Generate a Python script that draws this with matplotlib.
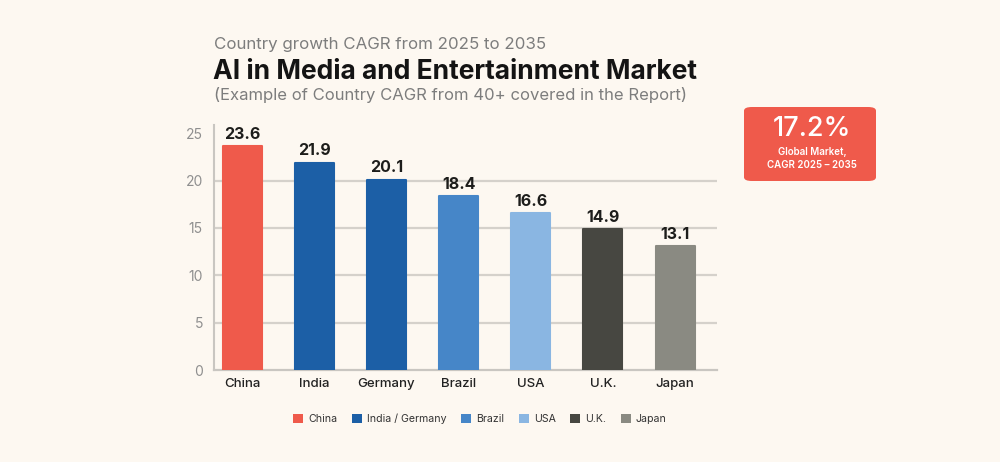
import matplotlib
matplotlib.use("Agg")
import matplotlib.pyplot as plt
from matplotlib.patches import FancyBboxPatch, Patch

countries = ["China", "India", "Germany", "Brazil", "USA", "U.K.", "Japan"]
cagr = [23.6, 21.9, 20.1, 18.4, 16.6, 14.9, 13.1]
bar_colors = ["#EF5A4B", "#1C5FA6", "#1C5FA6", "#4686C8", "#8AB6E2", "#474741", "#8A8A82"]
yticks = [0, 5, 10, 15, 20, 25]
legend_labels = ["China", "India / Germany", "Brazil", "USA", "U.K.", "Japan"]
legend_colors = ["#EF5A4B", "#1C5FA6", "#4686C8", "#8AB6E2", "#474741", "#8A8A82"]
global_cagr = "17.2%"

BG = "#FDF8F1"
FONT = "Inter"
plt.rcParams["font.family"] = [FONT, "DejaVu Sans"]

fig = plt.figure(figsize=(10, 4.62), dpi=100, facecolor=BG)
ax = fig.add_axes([0.214, 0.1991, 0.503, 0.531], facecolor="none")

x = range(len(countries))
bars = ax.bar(x, cagr, width=0.54, color=bar_colors, edgecolor=bar_colors,
              linewidth=1.5, joinstyle="round", zorder=3)
for xi, v in zip(x, cagr):
    ax.annotate(f"{v:.1f}", (xi, v), xytext=(0, 3), textcoords="offset points",
                ha="center", va="bottom", fontsize=11.5, fontweight="bold",
                color="#1d1d1b", zorder=4)

ax.set_xlim(-0.39, 6.58)
ax.set_ylim(0, 25.9)
ax.set_yticks(yticks)
ax.set_yticklabels([str(t) for t in yticks], fontsize=10, color="#8f8f8f")
ax.set_xticks(list(x))
ax.set_xticklabels(countries, fontsize=9.5, color="#222222", fontweight="medium")
ax.tick_params(axis="y", length=0, pad=8)
ax.tick_params(axis="x", length=0, pad=6)
for t in yticks[1:-1]:
    ax.axhline(t, color="#D5D1CB", linewidth=1.6, zorder=1)
for s in ["top", "right"]:
    ax.spines[s].set_visible(False)
ax.spines["left"].set_color("#C9C6C1")
ax.spines["left"].set_linewidth(1.5)
ax.spines["bottom"].set_color("#C9C6C1")
ax.spines["bottom"].set_linewidth(1.6)

# Titles
fig.text(0.214, 1 - 45 / 462, "Country growth CAGR from 2025 to 2035", fontsize=12.2,
         color="#7d7d7d", va="center", ha="left")
fig.text(0.213, 1 - 72 / 462, "AI in Media and Entertainment Market", fontsize=19,
         fontweight="bold", color="#141414", va="center", ha="left")
fig.text(0.214, 1 - 95 / 462, "(Example of Country CAGR from 40+ covered in the Report)",
         fontsize=12, color="#7d7d7d", va="center", ha="left")

# Global market box
box = FancyBboxPatch((744 / 1000, 1 - 181 / 462), 132 / 1000, 74 / 462,
                     boxstyle="round,pad=0,rounding_size=0.008",
                     transform=fig.transFigure, facecolor="#EF5A4B", edgecolor="none")
fig.patches.append(box)
fig.text(812 / 1000, 1 - 129 / 462, global_cagr, fontsize=19.5, color="white",
         ha="center", va="center", fontweight="medium")
fig.text(812 / 1000, 1 - 152 / 462, "Global Market,", fontsize=7, color="white",
         ha="center", va="center", fontweight="semibold")
fig.text(812 / 1000, 1 - 165 / 462, "CAGR 2025 \u2013 2035", fontsize=7, color="white",
         ha="center", va="center", fontweight="semibold")

# Legend
handles = [Patch(facecolor=c, edgecolor="none") for c in legend_colors]
fig.legend(handles, legend_labels, loc="center", bbox_to_anchor=(0.48, 1 - 419 / 462),
           ncol=6, frameon=False, fontsize=7.6, handlelength=0.95, handleheight=0.95,
           handletextpad=0.5, columnspacing=1.35, labelcolor="#333333")

fig.savefig("out.png", dpi=100, facecolor=BG)
